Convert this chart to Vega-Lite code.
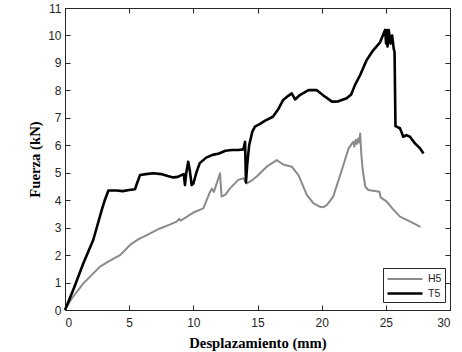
{
  "$schema": "https://vega.github.io/schema/vega-lite/v6.json",
  "width": 385,
  "height": 302,
  "autosize": {"type": "none"},
  "padding": {"left": 65, "top": 8, "right": 12, "bottom": 42},
  "background": "white",
  "config": {
    "view": {"stroke": "#262626", "strokeWidth": 1},
    "axis": {
      "grid": false,
      "domainColor": "#262626",
      "tickColor": "#262626",
      "tickSize": -5,
      "labelFont": "Liberation Sans",
      "labelFontSize": 12,
      "labelColor": "#262626",
      "titleFont": "Liberation Serif",
      "titleFontSize": 14.7,
      "titleFontWeight": "bold",
      "titleColor": "#000000"
    }
  },
  "data": {
    "values": [
      {"s": "H5", "x": 0, "y": 0},
      {"s": "H5", "x": 0.5, "y": 0.4},
      {"s": "H5", "x": 1.43, "y": 0.97},
      {"s": "H5", "x": 2.73, "y": 1.58},
      {"s": "H5", "x": 3.5, "y": 1.8},
      {"s": "H5", "x": 4.29, "y": 2.0},
      {"s": "H5", "x": 5.07, "y": 2.37},
      {"s": "H5", "x": 5.7, "y": 2.57},
      {"s": "H5", "x": 6.37, "y": 2.73},
      {"s": "H5", "x": 7.4, "y": 2.97},
      {"s": "H5", "x": 8.2, "y": 3.12},
      {"s": "H5", "x": 8.7, "y": 3.22},
      {"s": "H5", "x": 8.9, "y": 3.32},
      {"s": "H5", "x": 9.0, "y": 3.25},
      {"s": "H5", "x": 10.0, "y": 3.55},
      {"s": "H5", "x": 10.78, "y": 3.7},
      {"s": "H5", "x": 11.3, "y": 4.3},
      {"s": "H5", "x": 11.45, "y": 4.42},
      {"s": "H5", "x": 11.6, "y": 4.3},
      {"s": "H5", "x": 12.08, "y": 4.98},
      {"s": "H5", "x": 12.2, "y": 4.13},
      {"s": "H5", "x": 12.5, "y": 4.2},
      {"s": "H5", "x": 12.86, "y": 4.43},
      {"s": "H5", "x": 13.5, "y": 4.74},
      {"s": "H5", "x": 13.9, "y": 4.8},
      {"s": "H5", "x": 14.16, "y": 4.61},
      {"s": "H5", "x": 14.5, "y": 4.7},
      {"s": "H5", "x": 14.94, "y": 4.86},
      {"s": "H5", "x": 15.72, "y": 5.22},
      {"s": "H5", "x": 16.5, "y": 5.46},
      {"s": "H5", "x": 17.0, "y": 5.3},
      {"s": "H5", "x": 17.67, "y": 5.22},
      {"s": "H5", "x": 18.2, "y": 4.9},
      {"s": "H5", "x": 18.84, "y": 4.19},
      {"s": "H5", "x": 19.35, "y": 3.89},
      {"s": "H5", "x": 19.87, "y": 3.76},
      {"s": "H5", "x": 20.1, "y": 3.74},
      {"s": "H5", "x": 20.4, "y": 3.82},
      {"s": "H5", "x": 20.9, "y": 4.13},
      {"s": "H5", "x": 21.57, "y": 5.1},
      {"s": "H5", "x": 22.1, "y": 5.89},
      {"s": "H5", "x": 22.47, "y": 6.13},
      {"s": "H5", "x": 22.55, "y": 5.95},
      {"s": "H5", "x": 22.65, "y": 6.2},
      {"s": "H5", "x": 22.75, "y": 6.05},
      {"s": "H5", "x": 22.85, "y": 6.25},
      {"s": "H5", "x": 22.92, "y": 6.1},
      {"s": "H5", "x": 23.0, "y": 6.43},
      {"s": "H5", "x": 23.1, "y": 5.6},
      {"s": "H5", "x": 23.2, "y": 5.1},
      {"s": "H5", "x": 23.4, "y": 4.49},
      {"s": "H5", "x": 23.64, "y": 4.37},
      {"s": "H5", "x": 24.5, "y": 4.31},
      {"s": "H5", "x": 24.6, "y": 4.1},
      {"s": "H5", "x": 25.07, "y": 3.95},
      {"s": "H5", "x": 25.5, "y": 3.7},
      {"s": "H5", "x": 26.1, "y": 3.4},
      {"s": "H5", "x": 26.9, "y": 3.22},
      {"s": "H5", "x": 27.7, "y": 3.03},
      {"s": "T5", "x": 0, "y": 0},
      {"s": "T5", "x": 0.7, "y": 0.8},
      {"s": "T5", "x": 1.43, "y": 1.7},
      {"s": "T5", "x": 2.2, "y": 2.55},
      {"s": "T5", "x": 2.86, "y": 3.64},
      {"s": "T5", "x": 3.1, "y": 4.0},
      {"s": "T5", "x": 3.38, "y": 4.35},
      {"s": "T5", "x": 4.0, "y": 4.35},
      {"s": "T5", "x": 4.5, "y": 4.33},
      {"s": "T5", "x": 5.0, "y": 4.37},
      {"s": "T5", "x": 5.46, "y": 4.4},
      {"s": "T5", "x": 5.6, "y": 4.6},
      {"s": "T5", "x": 5.85, "y": 4.92},
      {"s": "T5", "x": 6.3, "y": 4.95},
      {"s": "T5", "x": 6.88, "y": 4.98},
      {"s": "T5", "x": 7.5, "y": 4.95},
      {"s": "T5", "x": 8.0, "y": 4.88},
      {"s": "T5", "x": 8.44, "y": 4.83},
      {"s": "T5", "x": 8.8, "y": 4.85},
      {"s": "T5", "x": 9.1, "y": 4.92},
      {"s": "T5", "x": 9.25, "y": 4.95},
      {"s": "T5", "x": 9.35, "y": 4.55},
      {"s": "T5", "x": 9.45, "y": 5.0},
      {"s": "T5", "x": 9.6, "y": 5.4},
      {"s": "T5", "x": 9.72, "y": 5.1},
      {"s": "T5", "x": 9.87, "y": 4.55},
      {"s": "T5", "x": 10.0, "y": 4.6},
      {"s": "T5", "x": 10.26, "y": 5.04},
      {"s": "T5", "x": 10.5, "y": 5.35},
      {"s": "T5", "x": 11.0, "y": 5.55},
      {"s": "T5", "x": 11.5, "y": 5.65},
      {"s": "T5", "x": 12.0, "y": 5.7},
      {"s": "T5", "x": 12.5, "y": 5.8},
      {"s": "T5", "x": 13.0, "y": 5.83},
      {"s": "T5", "x": 13.5, "y": 5.83},
      {"s": "T5", "x": 13.9, "y": 5.85},
      {"s": "T5", "x": 14.03, "y": 6.13},
      {"s": "T5", "x": 14.1, "y": 4.65},
      {"s": "T5", "x": 14.2, "y": 5.3},
      {"s": "T5", "x": 14.35, "y": 6.0},
      {"s": "T5", "x": 14.6, "y": 6.5},
      {"s": "T5", "x": 14.8, "y": 6.68},
      {"s": "T5", "x": 15.2, "y": 6.78},
      {"s": "T5", "x": 15.6, "y": 6.9},
      {"s": "T5", "x": 16.2, "y": 7.04},
      {"s": "T5", "x": 16.6, "y": 7.3},
      {"s": "T5", "x": 17.0, "y": 7.65},
      {"s": "T5", "x": 17.4, "y": 7.8},
      {"s": "T5", "x": 17.67, "y": 7.89},
      {"s": "T5", "x": 17.93, "y": 7.67},
      {"s": "T5", "x": 18.3, "y": 7.83},
      {"s": "T5", "x": 18.97, "y": 8.01},
      {"s": "T5", "x": 19.6, "y": 8.01},
      {"s": "T5", "x": 20.26, "y": 7.77},
      {"s": "T5", "x": 20.8, "y": 7.59},
      {"s": "T5", "x": 21.3, "y": 7.6},
      {"s": "T5", "x": 21.95, "y": 7.71},
      {"s": "T5", "x": 22.3, "y": 7.85},
      {"s": "T5", "x": 22.6, "y": 8.2},
      {"s": "T5", "x": 23.0, "y": 8.56},
      {"s": "T5", "x": 23.5, "y": 9.1},
      {"s": "T5", "x": 24.0, "y": 9.45},
      {"s": "T5", "x": 24.55, "y": 9.75},
      {"s": "T5", "x": 24.94, "y": 10.2},
      {"s": "T5", "x": 25.02, "y": 9.71},
      {"s": "T5", "x": 25.08, "y": 10.2},
      {"s": "T5", "x": 25.13, "y": 9.6},
      {"s": "T5", "x": 25.23, "y": 10.2},
      {"s": "T5", "x": 25.36, "y": 9.7},
      {"s": "T5", "x": 25.49, "y": 10.0},
      {"s": "T5", "x": 25.62, "y": 9.5},
      {"s": "T5", "x": 25.68, "y": 9.4},
      {"s": "T5", "x": 25.75, "y": 6.7},
      {"s": "T5", "x": 26.1, "y": 6.62},
      {"s": "T5", "x": 26.36, "y": 6.31},
      {"s": "T5", "x": 26.6, "y": 6.37},
      {"s": "T5", "x": 26.88, "y": 6.31},
      {"s": "T5", "x": 27.27, "y": 6.07},
      {"s": "T5", "x": 27.66, "y": 5.89},
      {"s": "T5", "x": 27.93, "y": 5.7}
    ]
  },
  "layer": [
    {
      "mark": {"type": "line", "strokeJoin": "round"},
      "encoding": {
        "x": {
          "field": "x", "type": "quantitative",
          "scale": {"domain": [0, 30], "nice": false, "zero": false},
          "axis": {"values": [0, 5, 10, 15, 20, 25, 30], "title": "Desplazamiento (mm)", "labelPadding": 12, "titlePadding": 7}
        },
        "y": {
          "field": "y", "type": "quantitative",
          "scale": {"domain": [0, 11], "nice": false, "zero": false},
          "axis": {"values": [0, 1, 2, 3, 4, 5, 6, 7, 8, 9, 10, 11], "title": "Fuerza (kN)", "labelPadding": 9, "titlePadding": 5}
        },
        "color": {
          "field": "s", "type": "nominal",
          "scale": {"domain": ["H5", "T5"], "range": ["#8a8a8a", "#000000"]},
          "legend": {
            "title": null,
            "orient": "none",
            "legendX": 318,
            "legendY": 260,
            "symbolType": "M-1,0H4",
            "symbolSize": 196,
            "labelOffset": 25,
            "labelFont": "Liberation Sans",
            "labelFontSize": 10.5,
            "labelColor": "#262626",
            "strokeColor": "#262626",
            "fillColor": "white",
            "padding": 3,
            "rowPadding": 0
          }
        },
        "strokeWidth": {
          "field": "s", "type": "nominal",
          "scale": {"domain": ["H5", "T5"], "range": [2, 2.6]},
          "legend": null
        }
      }
    },
    {
      "mark": {"type": "point", "opacity": 0},
      "encoding": {
        "x": {
          "field": "x", "type": "quantitative",
          "axis": {"orient": "top", "values": [0, 5, 10, 15, 20, 25, 30], "labels": false, "title": null, "domain": false}
        },
        "y": {
          "field": "y", "type": "quantitative",
          "axis": {"orient": "right", "values": [0, 1, 2, 3, 4, 5, 6, 7, 8, 9, 10, 11], "labels": false, "title": null, "domain": false}
        }
      }
    }
  ],
  "resolve": {"axis": {"x": "independent", "y": "independent"}}
}
